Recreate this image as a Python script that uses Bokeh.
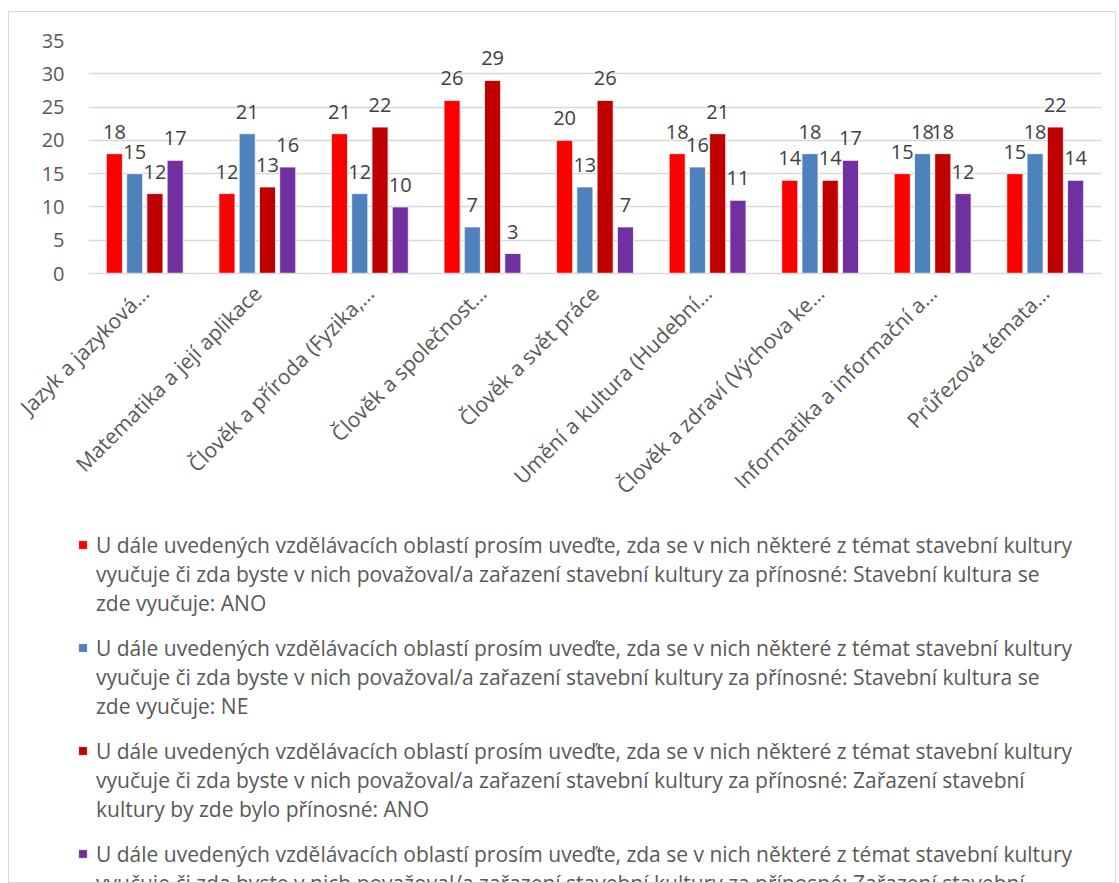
import math
from bokeh.plotting import figure
from bokeh.layouts import column, row
from bokeh.models import ColumnDataSource, Legend, LegendItem, FactorRange
from bokeh.transform import dodge
from bokeh.core.properties import value
from bokeh.embed import file_html
from bokeh.resources import INLINE

categories = [
    "Jazyk a jazyková…",
    "Matematika a její aplikace",
    "Člověk a příroda (Fyzika,…",
    "Člověk a společnost…",
    "Člověk a svět práce",
    "Umění a kultura (Hudební…",
    "Člověk a zdraví (Výchova ke…",
    "Informatika a informační a…",
    "Průřezová témata…",
]
vyucuje_ano = [18, 12, 21, 26, 20, 18, 14, 15, 15]
vyucuje_ne = [15, 21, 12, 7, 13, 16, 18, 18, 18]
prinosne_ano = [12, 13, 22, 29, 26, 21, 14, 18, 22]
prinosne_ne = [17, 16, 10, 3, 7, 11, 17, 12, 14]

series_labels = [
    ["U dále uvedených vzdělávacích oblastí prosím uveďte, zda se v nich některé z témat stavební kultury",
     "vyučuje či zda byste v nich považoval/a zařazení stavební kultury za přínosné: Stavební kultura se",
     "zde vyučuje: ANO"],
    ["U dále uvedených vzdělávacích oblastí prosím uveďte, zda se v nich některé z témat stavební kultury",
     "vyučuje či zda byste v nich považoval/a zařazení stavební kultury za přínosné: Stavební kultura se",
     "zde vyučuje: NE"],
    ["U dále uvedených vzdělávacích oblastí prosím uveďte, zda se v nich některé z témat stavební kultury",
     "vyučuje či zda byste v nich považoval/a zařazení stavební kultury za přínosné: Zařazení stavební",
     "kultury by zde bylo přínosné: ANO"],
    ["U dále uvedených vzdělávacích oblastí prosím uveďte, zda se v nich některé z témat stavební kultury",
     "vyučuje či zda byste v nich považoval/a zařazení stavební kultury za přínosné: Zařazení stavební",
     "kultury by zde bylo přínosné: NE"],
]
colors = ["#FF0000", "#4F81BD", "#C00000", "#7030A0"]
offsets = [-0.27, -0.09, 0.09, 0.27]

FONT = "Open Sans"
TXT = "#595959"

src = ColumnDataSource(dict(
    cat=categories,
    s0=vyucuje_ano, s1=vyucuje_ne, s2=prinosne_ano, s3=prinosne_ne,
    t0=[str(v) for v in vyucuje_ano], t1=[str(v) for v in vyucuje_ne],
    t2=[str(v) for v in prinosne_ano], t3=[str(v) for v in prinosne_ne],
))

W = 1108
H1 = 500
H2 = 370

p = figure(
    x_range=FactorRange(*categories), y_range=(0, 35),
    width=W, height=H1, output_backend="svg", toolbar_location=None,
    min_border_left=79, min_border_right=14, min_border_top=28, min_border_bottom=235,
)
p.outline_line_color = None
p.border_fill_color = "white"

for i in range(4):
    p.vbar(x=dodge("cat", offsets[i], range=p.x_range), top="s%d" % i, width=0.143,
           source=src, fill_color=colors[i], line_color="white", line_width=0.8)
    p.text(x=dodge("cat", offsets[i], range=p.x_range), y="s%d" % i, text="t%d" % i, source=src,
           text_align="center", text_baseline="bottom", y_offset=-15,
           text_font=value(FONT), text_font_size="20px", text_color="#404040")

p.xgrid.grid_line_color = None
p.ygrid.grid_line_color = "#d9d9d9"
p.ygrid.grid_line_width = 1.3
p.yaxis.ticker = [0, 5, 10, 15, 20, 25, 30, 35]
p.yaxis.axis_line_color = None
p.yaxis.major_tick_line_color = None
p.yaxis.minor_tick_line_color = None
p.yaxis.major_label_standoff = 18
p.yaxis.major_label_text_font = FONT
p.yaxis.major_label_text_font_size = "20px"
p.yaxis.major_label_text_color = TXT

p.xaxis.axis_line_color = "#d9d9d9"
p.xaxis.axis_line_width = 1.3
p.xaxis.major_tick_line_color = None
p.xaxis.minor_tick_line_color = None
p.xaxis.major_label_orientation = math.pi / 4
p.xaxis.major_label_standoff = 10
p.xaxis.major_label_text_font = FONT
p.xaxis.major_label_text_font_size = "21px"
p.xaxis.major_label_text_color = TXT

# legend panel (bars drawn invisibly from the same data, only their legend swatches show)
q = figure(width=W, height=H2, output_backend="svg", toolbar_location=None,
           x_range=FactorRange(*categories), y_range=(0, 35), min_border=0,
           x_axis_location=None, y_axis_location=None)
q.grid.grid_line_color = None
q.outline_line_color = None
q.border_fill_color = "white"

LINE = 29
PITCH = 103
TOP0 = 18
for i in range(4):
    r = q.vbar(x=dodge("cat", offsets[i], range=q.x_range), top="s%d" % i, width=0.143,
               source=src, fill_color=colors[i], line_color="white", line_width=0.8, visible=False)
    its = [LegendItem(label=series_labels[i][0], renderers=[r])]
    for ln in series_labels[i][1:]:
        its.append(LegendItem(label=ln, renderers=[]))
    top = TOP0 + i * PITCH
    bottom_from_base = H2 - (top + 3 * LINE)
    lg = Legend(items=its, location=(68, bottom_from_base), orientation="vertical",
                padding=0, margin=0, spacing=0, glyph_width=11, glyph_height=11,
                label_height=LINE, label_standoff=8, border_line_color=None,
                background_fill_alpha=0,
                label_text_font=FONT, label_text_font_size="21px", label_text_color=TXT)
    q.add_layout(lg)

layout = column(p, row(q, spacing=0), spacing=0)
layout.styles = {"border": "1px solid #d9d9d9", "margin-left": "8px", "margin-top": "11px",
                 "width": "%dpx" % W}

open("out.html", "w").write(file_html(layout, INLINE))
